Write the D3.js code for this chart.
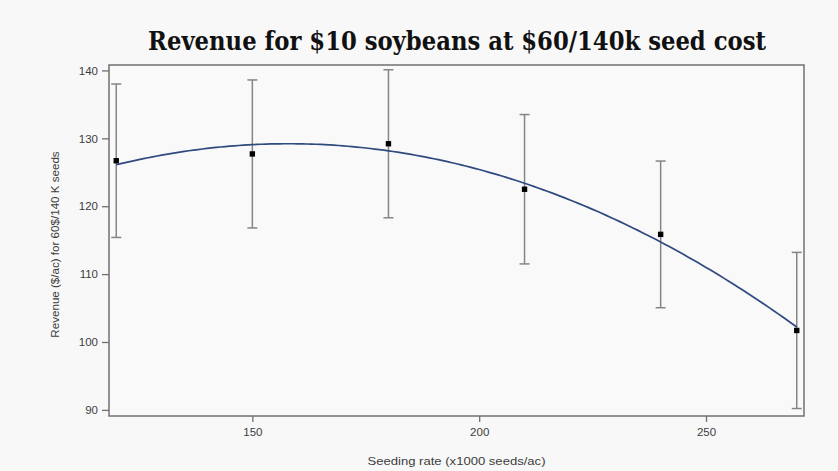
<!DOCTYPE html>
<html>
<head>
<meta charset="utf-8">
<script src="https://cdn.jsdelivr.net/npm/d3@7"></script>
<style>
  html, body { margin: 0; padding: 0; background: #f8f8f8; }
  svg { display: block; }
</style>
</head>
<body>
<svg id="chart" width="838" height="471"></svg>
<script>
// Seeding rate trials: mean revenue and error bar half-widths
const seedingRates = [120, 150, 180, 210, 240, 270];
const revenue      = [126.7, 127.7, 129.2, 122.5, 115.85, 101.7];
const errorHalf    = [11.3, 10.9, 10.9, 11.0, 10.8, 11.5];
const xTicks = [150, 200, 250];
const yTicks = [90, 100, 110, 120, 130, 140];

const titleText = "Revenue for $10 soybeans at $60/140k seed cost";
const xTitle = "Seeding rate (x1000 seeds/ac)";
const yTitle = "Revenue ($/ac) for 60$/140 K seeds";

const frame = { left: 109, right: 804, top: 65, bottom: 416 };
const sansFont = "'Liberation Sans', Arial, sans-serif";
const labelColor = "#3c3c3c";

const svg = d3.select("#chart");

const x = d3.scaleLinear().domain([118.4, 271.6]).range([frame.left, frame.right]);
const y = d3.scaleLinear().domain([89.1, 140.8]).range([frame.bottom, frame.top]);

// Least-squares quadratic fit of revenue on seeding rate
function quadFit(xs, ys) {
  const mx = d3.mean(xs), sx = 30;
  const S = [[0,0,0],[0,0,0],[0,0,0]], T = [0,0,0];
  xs.forEach((v, i) => {
    const t = (v - mx) / sx, p = [1, t, t * t];
    for (let r = 0; r < 3; r++) {
      T[r] += p[r] * ys[i];
      for (let c = 0; c < 3; c++) S[r][c] += p[r] * p[c];
    }
  });
  const A = S.map((row, i) => row.concat([T[i]]));
  for (let i = 0; i < 3; i++) {
    for (let k = i + 1; k < 3; k++) {
      const f = A[k][i] / A[i][i];
      for (let j = i; j < 4; j++) A[k][j] -= f * A[i][j];
    }
  }
  const coef = [0,0,0];
  for (let i = 2; i >= 0; i--) {
    let s = A[i][3];
    for (let j = i + 1; j < 3; j++) s -= A[i][j] * coef[j];
    coef[i] = s / A[i][i];
  }
  return v => { const t = (v - mx) / sx; return coef[0] + coef[1] * t + coef[2] * t * t; };
}
const fit = quadFit(seedingRates, revenue);

// Plot frame
svg.append("rect")
  .attr("x", frame.left).attr("y", frame.top)
  .attr("width", frame.right - frame.left).attr("height", frame.bottom - frame.top)
  .attr("fill", "#f9f9f9").attr("stroke", "#707070").attr("stroke-width", 1.5);

// Axes
const axisColor = "#707070";
const yAxis = svg.append("g")
  .attr("transform", `translate(${frame.left},0)`)
  .call(d3.axisLeft(y).tickValues(yTicks).tickSize(7).tickPadding(4));
const xAxis = svg.append("g")
  .attr("transform", `translate(0,${frame.bottom})`)
  .call(d3.axisBottom(x).tickValues(xTicks).tickSize(6).tickPadding(6));
[xAxis, yAxis].forEach(g => {
  g.select(".domain").remove();
  g.selectAll(".tick line").attr("stroke", axisColor).attr("stroke-width", 1.3);
  g.selectAll(".tick text")
    .attr("fill", labelColor)
    .style("font-family", sansFont)
    .style("font-size", "11.5px");
});

// Error bars
const bars = svg.append("g").attr("stroke", "#858585").attr("stroke-width", 1.5);
seedingRates.forEach((s, i) => {
  const cx = x(s), lo = y(revenue[i] - errorHalf[i]), hi = y(revenue[i] + errorHalf[i]);
  bars.append("line").attr("x1", cx).attr("x2", cx).attr("y1", lo).attr("y2", hi);
  bars.append("line").attr("x1", cx - 5).attr("x2", cx + 5).attr("y1", lo).attr("y2", lo);
  bars.append("line").attr("x1", cx - 5).attr("x2", cx + 5).attr("y1", hi).attr("y2", hi);
});

// Fitted curve
const curveX = d3.range(seedingRates[0], seedingRates[seedingRates.length - 1] + 0.001, 1);
svg.append("path")
  .datum(curveX)
  .attr("fill", "none")
  .attr("stroke", "#2e4a7e")
  .attr("stroke-width", 1.7)
  .attr("d", d3.line().x(d => x(d)).y(d => y(fit(d))));

// Mean points
svg.append("g").selectAll("rect")
  .data(seedingRates)
  .join("rect")
  .attr("x", d => x(d) - 2.7)
  .attr("y", (d, i) => y(revenue[i]) - 2.7)
  .attr("width", 5.4).attr("height", 5.4)
  .attr("fill", "#000");

// Axis titles
svg.append("text")
  .attr("x", (frame.left + frame.right) / 2).attr("y", 465)
  .attr("text-anchor", "middle")
  .attr("fill", labelColor)
  .attr("textLength", 178)
  .attr("lengthAdjust", "spacingAndGlyphs")
  .style("font-family", sansFont)
  .style("font-size", "11.6px")
  .text(xTitle);

svg.append("text")
  .attr("transform", `translate(59,${(frame.top + frame.bottom) / 2 + 4}) rotate(-90)`)
  .attr("text-anchor", "middle")
  .attr("fill", labelColor)
  .style("font-family", sansFont)
  .style("font-size", "11.6px")
  .text(yTitle);

// Title, sized to span its intended width
const title = svg.append("text")
  .attr("x", 457).attr("y", 50)
  .attr("text-anchor", "middle")
  .attr("fill", "#111")
  .style("font-family", "'DejaVu Serif Condensed', 'DejaVu Serif', serif")
  .style("font-weight", "bold")
  .style("font-size", "22px")
  .text(titleText);
const tw = title.node().getComputedTextLength();
title.style("font-size", (22 * 618 / tw).toFixed(2) + "px");
</script>
</body>
</html>
